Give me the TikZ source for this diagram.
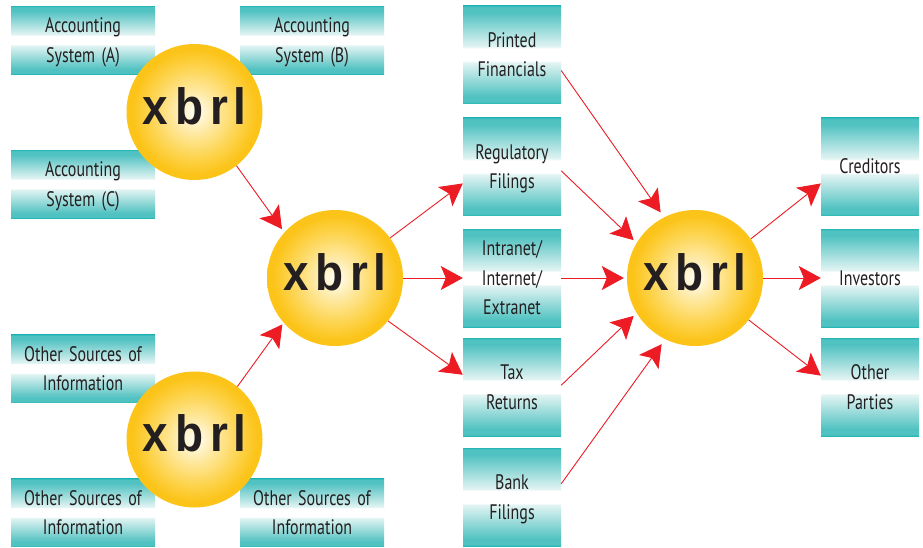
\documentclass[tikz,border=0pt]{standalone}
\usepackage{fontspec}
\setmainfont{PT Sans}[FakeStretch=0.76,WordSpace=1.5]
\newfontfamily\xbrlfont{Liberation Sans}[FakeStretch=0.9]
\usetikzlibrary{arrows.meta}
\definecolor{tealedge}{RGB}{40,182,182}
\definecolor{tealc}{RGB}{80,194,193}
\definecolor{tealw}{RGB}{226,244,243}
\definecolor{ballc}{RGB}{255,250,230}
\definecolor{balltwo}{RGB}{254,230,150}
\definecolor{ballthree}{RGB}{253,211,75}
\definecolor{ballout}{RGB}{252,196,25}
\definecolor{txtc}{RGB}{35,31,32}
\definecolor{arrowred}{RGB}{237,28,36}
% TikZ maps the middle 50bp x 50bp of a shading onto the path
\pgfdeclareverticalshading{tealband}{100bp}{color(0bp)=(tealedge); color(25bp)=(tealedge); color(25.8bp)=(tealc); color(28.5bp)=(tealc); color(46bp)=(tealw); color(46.8bp)=(white); color(53.2bp)=(white); color(54bp)=(tealw); color(71.5bp)=(tealc); color(74.2bp)=(tealc); color(75bp)=(tealedge); color(100bp)=(tealedge)}
\pgfdeclareradialshading{ballshade}{\pgfpoint{0bp}{0bp}}{color(0bp)=(ballc); color(1.5bp)=(ballc); color(9bp)=(balltwo); color(17bp)=(ballthree); color(23bp)=(ballout); color(50bp)=(ballout)}
\tikzset{
  infobox/.style={shade, shading=tealband, text=txtc, font=\fontsize{21}{29.5}\selectfont, align=center, inner sep=0pt, text depth=0pt},
  widebox/.style={infobox, minimum width=144pt, minimum height=68pt},
  sqbox/.style={infobox, minimum width=98pt, minimum height=98pt},
  ball/.style={circle, shade, shading=ballshade, minimum size=136pt, inner sep=0pt, text=txtc, font=\xbrlfont\bfseries\fontsize{51}{51}\selectfont, text height=24pt, text depth=0pt},
  flow/.style={draw=arrowred, line width=0.9pt, -{Stealth[length=22pt,width=24pt,inset=5pt]}},
}
\newcommand{\xbrlword}{x\kern7pt b\kern7pt r\kern5pt l}
\begin{document}
\begin{tikzpicture}[x=1pt,y=-1pt]
\path[fill=white] (0,0) rectangle (923,547);
\useasboundingbox (0,0) rectangle (923,547);
% left boxes
\node[widebox] (accA) at (83,40) {Accounting\\System (A)};
\node[widebox] (accB) at (312,40) {Accounting\\System (B)};
\node[widebox] (accC) at (83,184) {Accounting\\System (C)};
\node[widebox] (os1) at (83,368.5) {Other Sources of\\Information};
\node[widebox] (os2) at (83,512.5) {Other Sources of\\Information};
\node[widebox] (os3) at (312,512.5) {Other Sources of\\Information};
% middle column
\node[sqbox] (pf) at (512,54.5) {Printed\\Financials};
\node[sqbox] (reg) at (512,166.5) {Regulatory\\Filings};
\node[sqbox] (int) at (512,278) {Intranet/\\Internet/\\Extranet};
\node[sqbox] (tax) at (512,387) {Tax\\Returns};
\node[sqbox] (bank) at (512,497) {Bank\\Filings};
% right column
\node[sqbox] (cred) at (870,166.5) {Creditors};
\node[sqbox] (inv) at (870,278) {Investors};
\node[sqbox] (oth) at (870,387) {Other\\Parties};
% circles
\node[ball] (tl) at (194.5,112) {\xbrlword};
\node[ball] (bl) at (194.5,439.5) {\xbrlword};
\node[ball] (mid) at (335,278) {\xbrlword};
\node[ball] (rc) at (695,278) {\xbrlword};
% connectors
\draw[flow, shorten >=4pt] (tl.-52) -- (mid.138);
\draw[flow, shorten >=2pt] (bl.51) -- (mid.221);
\draw[flow] (mid.36) -- (reg.199);
\draw[flow] (mid.east) -- (int.west);
\draw[flow] (mid.-39) -- (tax.166);
\draw[flow, shorten >=6pt] (pf.-18) -- (rc.117);
\draw[flow, shorten >=4pt] (reg.-5) -- (rc.149);
\draw[flow, shorten >=3pt] (int.east) -- (rc.west);
\draw[flow, shorten >=4pt] (tax.2) -- (rc.211);
\draw[flow, shorten >=6pt] (bank.15) -- (rc.244);
\draw[flow] (rc.35) -- (cred.199);
\draw[flow] (rc.east) -- (inv.west);
\draw[flow] (rc.-38) -- (oth.167);
\end{tikzpicture}
\end{document}
